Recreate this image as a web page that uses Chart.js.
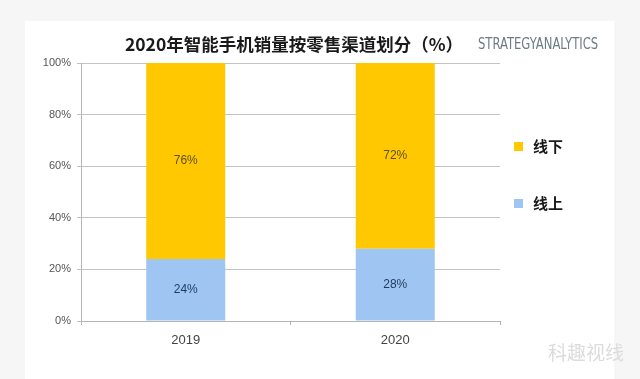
<!DOCTYPE html>
<html>
<head>
<meta charset="utf-8">
<script src="https://cdn.jsdelivr.net/npm/chart.js@4/dist/chart.umd.min.js"></script>
<style>
  html, body { margin: 0; padding: 0; }
  body { width: 640px; height: 379px; background: #f6f6f6; position: relative; overflow: hidden; font-family: "Noto Sans CJK SC", "Noto Sans", sans-serif; }
  #panel { position: absolute; left: 25px; top: 21px; width: 589px; height: 358px; background: #ffffff; }
  #wrap { position: absolute; left: 0; top: 0; width: 640px; height: 379px; }
  #title { position: absolute; left: 4px; width: 580px; top: 31px; text-align: center; font-weight: bold; font-size: 17.5px; color: #1a1a1a; line-height: 26px; white-space: nowrap; }
  #brand { position: absolute; left: 478px; top: 35px; font-family: "Liberation Sans Narrow", "DejaVu Sans Condensed", sans-serif; font-size: 15px; color: #6d7c84; white-space: nowrap; line-height: 18px; transform: scaleX(0.86); transform-origin: left center; }
  .lg { position: absolute; left: 514px; font-weight: bold; font-size: 15px; color: #1a1a1a; line-height: 20px; white-space: nowrap; }
  .lg span.sw { display: inline-block; width: 9px; height: 9px; margin-right: 10px; vertical-align: 1px; }
  #wm { position: absolute; left: 548px; top: 339px; font-size: 19px; color: #dcdcdc; white-space: nowrap; line-height: 26px; }
</style>
</head>
<body>
<div id="panel"></div>
<div id="wrap"><canvas id="c" width="640" height="379"></canvas></div>
<div id="title">2020年智能手机销量按零售渠道划分（%）</div>
<div id="brand">STRATEGYANALYTICS</div>
<div class="lg" style="top:136px;"><span class="sw" style="background:#ffc800"></span>线下</div>
<div class="lg" style="top:193px;"><span class="sw" style="background:#9fc5f2"></span>线上</div>
<div id="wm">科趣视线</div>
<script>
const categories = ["2019", "2020"];
const onlineValues = [24, 28];
const offlineValues = [76, 72];
const yTicks = [0, 20, 40, 60, 80, 100];
const seriesNames = ["线上", "线下"];

const barLabels = {
  id: 'barLabels',
  afterDatasetsDraw(chart) {
    const ctx = chart.ctx;
    ctx.save();
    ctx.font = '12px "Liberation Sans", "Noto Sans", sans-serif';
    ctx.textAlign = 'center';
    ctx.textBaseline = 'middle';
    chart.data.datasets.forEach((ds, di) => {
      const meta = chart.getDatasetMeta(di);
      meta.data.forEach((bar, i) => {
        const cy = (bar.y + bar.base) / 2;
        ctx.fillStyle = ds.labelColor;
        ctx.fillText(ds.data[i] + '%', bar.x, cy);
      });
    });
    ctx.restore();
  }
};

new Chart(document.getElementById('c'), {
  type: 'bar',
  data: {
    labels: categories,
    datasets: [
      { label: seriesNames[0], data: onlineValues, backgroundColor: '#9fc5f2', labelColor: '#1f3a5c' },
      { label: seriesNames[1], data: offlineValues, backgroundColor: '#ffc800', labelColor: '#5e4f1c' }
    ]
  },
  options: {
    responsive: false,
    animation: false,
    events: [],
    layout: { padding: { left: 0, right: 140, top: 63, bottom: 0 } },
    plugins: { legend: { display: false }, tooltip: { enabled: false }, title: { display: false } },
    datasets: { bar: { barPercentage: 1, categoryPercentage: 0.377 } },
    scales: {
      x: {
        stacked: true,
        afterFit(s) { s.height = 58; },
        grid: { drawOnChartArea: false, drawTicks: true, tickLength: 4, color: '#b5b5b5' },
        border: { color: '#b5b5b5' },
        ticks: { color: '#444', font: { size: 13, family: '"Liberation Sans", "Noto Sans", sans-serif' }, padding: 8 }
      },
      y: {
        stacked: true,
        min: 0, max: 100,
        afterFit(s) { s.width = 81; },
        afterBuildTicks(s) { s.ticks = yTicks.map(v => ({ value: v })); },
        grid: { color: '#c4c4c4', tickLength: 4 },
        border: { color: '#b5b5b5' },
        ticks: { color: '#555', font: { size: 11, family: '"Liberation Sans", "Noto Sans", sans-serif' }, padding: 6, callback: v => v + '%' }
      }
    }
  },
  plugins: [barLabels]
});
</script>
</body>
</html>
